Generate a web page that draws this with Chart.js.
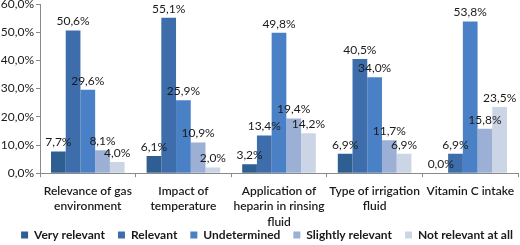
<!DOCTYPE html>
<html>
<head>
<meta charset="utf-8">
<script src="https://cdn.jsdelivr.net/npm/chart.js@4.4.0/dist/chart.umd.min.js"></script>
<style>
  html, body { margin: 0; padding: 0; background: #fff; }
  #wrap { width: 520px; height: 245px; }
</style>
</head>
<body>
<div id="wrap"><canvas id="myChart"></canvas></div>
<script>
// categories (multi-line labels as in the figure)
const categories = [
  ["Relevance of gas", "environment"],
  ["Impact of", "temperature"],
  ["Application of", "heparin in rinsing", "fluid"],
  ["Type of irrigation", "fluid"],
  ["Vitamin C intake"],
];
const seriesNames = ["Very relevant", "Relevant", "Undetermined", "Slightly relevant", "Not relevant at all"];
const veryRelevant = [7.7, 6.1, 3.2, 6.9, 0.0];
const relevant = [50.6, 55.1, 13.4, 40.5, 6.9];
const undetermined = [29.6, 25.9, 49.8, 34.0, 53.8];
const slightlyRelevant = [8.1, 10.9, 19.4, 11.7, 15.8];
const notRelevant = [4.0, 2.0, 14.2, 6.9, 23.5];
const yTicks = [0, 10, 20, 30, 40, 50, 60];

const colors = ["#2F5E93", "#3D6DAA", "#4A80C5", "#9CB0D6", "#CCD5E5"];
const allSeries = [veryRelevant, relevant, undetermined, slightlyRelevant, notRelevant];

function pct(v) {
  return v.toFixed(1).replace(".", ",") + "%";
}

// draws the value above each bar
const barLabels = {
  id: "barLabels",
  afterDatasetsDraw(chart) {
    const ctx = chart.ctx;
    ctx.save();
    ctx.font = "12px Lato";
    ctx.fillStyle = "#1a1a1a";
    ctx.textAlign = "center";
    ctx.textBaseline = "bottom";
    chart.data.datasets.forEach((ds, i) => {
      const meta = chart.getDatasetMeta(i);
      meta.data.forEach((bar, j) => {
        ctx.fillText(pct(ds.data[j]), bar.x, bar.y - 3);
      });
    });
    ctx.restore();
  },
};

// legend takes little room in the layout, then is moved into place
const legendFix = {
  id: "legendFix",
  beforeUpdate(chart) {
    const lg = chart.legend;
    if (lg && !lg._patched) {
      const fit = lg.fit;
      lg.fit = function () {
        fit.call(this);
        this.height = 9;
      };
      lg._patched = true;
    }
  },
  afterLayout(chart) {
    const lg = chart.legend;
    lg.top = 216;
    lg.bottom = 245;
    lg.left += 7;
    lg.right += 7;
  },
};

const el = document.getElementById("myChart");

new Chart(el, {
  type: "bar",
  data: {
    labels: categories,
    datasets: allSeries.map((d, i) => ({
      label: seriesNames[i],
      data: d,
      backgroundColor: colors[i],
      borderWidth: 0,
      categoryPercentage: 0.77,
      barPercentage: 1.0,
    })),
  },
  options: {
    responsive: true,
    maintainAspectRatio: false,
    animation: false,
    layout: { padding: { top: 0, right: 0, left: 0, bottom: 0 } },
    scales: {
      x: {
        grid: {
          offset: true,
          drawOnChartArea: false,
          drawTicks: true,
          tickLength: 4,
          color: "#8a8a8a",
        },
        border: { color: "#8a8a8a", width: 1 },
        ticks: {
          color: "#1a1a1a",
          font: { size: 12, family: "Lato", weight: "600", lineHeight: 1.3 },
          maxRotation: 0,
          autoSkip: false,
          padding: 6,
        },
      },
      y: {
        min: 0,
        max: 60,
        afterBuildTicks(scale) {
          scale.ticks = yTicks.map((v) => ({ value: v }));
        },
        afterFit(scale) {
          scale.width = 40;
          scale.paddingTop = 4;
        },
        grid: {
          drawOnChartArea: false,
          drawTicks: true,
          tickLength: 4,
          color: "#8a8a8a",
        },
        border: { color: "#8a8a8a", width: 1 },
        ticks: {
          color: "#1a1a1a",
          font: { size: 12, family: "Lato" },
          padding: 2,
          callback: (v) => pct(v),
        },
      },
    },
    plugins: {
      legend: {
        position: "bottom",
        labels: {
          color: "#1a1a1a",
          boxWidth: 7,
          boxHeight: 7,
          padding: 13,
          font: { size: 12, family: "Lato", weight: "bold" },
        },
      },
      tooltip: { enabled: false },
    },
  },
  plugins: [barLabels, legendFix],
});
</script>
</body>
</html>
